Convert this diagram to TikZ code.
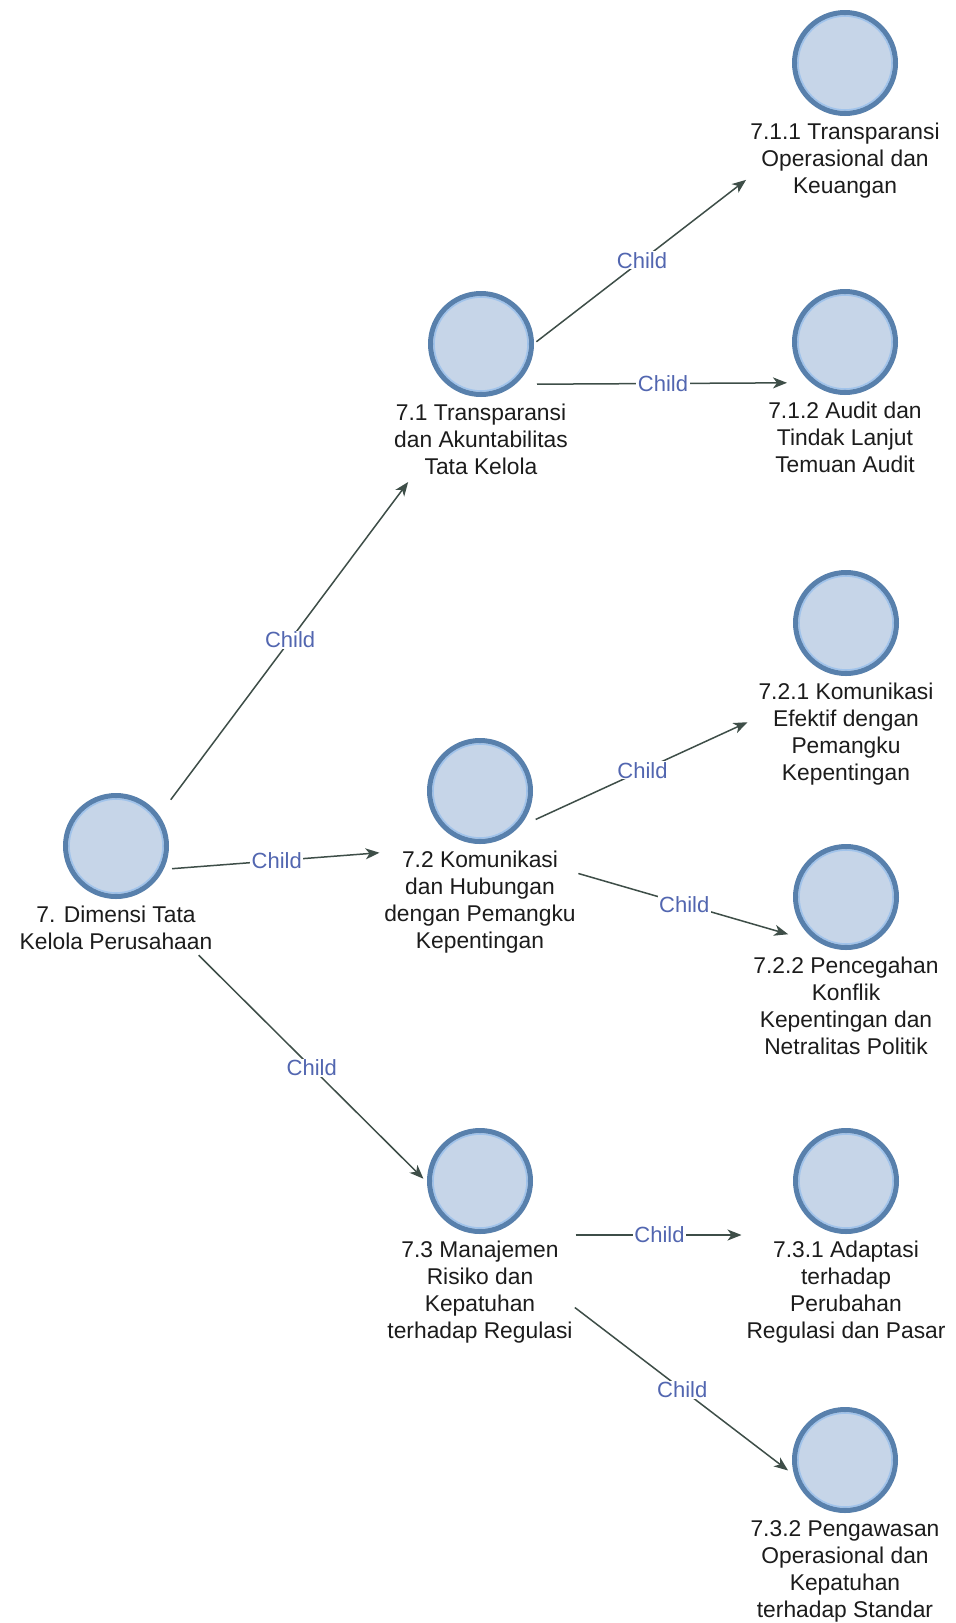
\documentclass[tikz,border=0pt]{standalone}
\usepackage{fontspec}
\setmainfont{Liberation Sans}
\usetikzlibrary{arrows.meta,positioning}

\definecolor{ringblue}{RGB}{88,128,172}
\definecolor{ringlight}{RGB}{160,195,235}
\definecolor{discfill}{RGB}{198,213,232}
\definecolor{labelink}{RGB}{28,28,28}
\definecolor{linkgray}{RGB}{62,78,72}
\definecolor{tagblue}{RGB}{82,102,176}

\begin{document}
\begin{tikzpicture}[x=1pt,y=-1pt,
  ring/.style={circle, draw=ringblue, line width=5pt, fill=discfill,
    minimum size=101pt, inner sep=0pt,
    path picture={\draw[draw=ringlight, line width=1.6pt]
      (path picture bounding box.center) circle[radius=47pt];}},
  lbl/.style={align=center, inner sep=0pt, text=labelink,
    font=\fontsize{22.8pt}{27pt}\selectfont},
  link/.style={draw=linkgray, line width=1.5pt,
    -{Stealth[length=14pt,width=11pt,inset=4pt]}},
  tag/.style={fill=white, inner xsep=1.5pt, inner ysep=1pt, text=tagblue,
    font=\fontsize{22pt}{24pt}\selectfont},
]
\useasboundingbox (0,0) rectangle (956,1623);
\fill[white] (0,0) rectangle (956,1623);

% ---- entities: disc + caption ----
\node[ring] (c0) at (116,846) {};
\node[lbl, below=7pt of c0] (t0) {7. Dimensi Tata\\Kelola Perusahaan};

\node[ring] (c71) at (481,344) {};
\node[lbl, below=7pt of c71] (t71) {7.1 Transparansi\\dan Akuntabilitas\\Tata Kelola};

\node[ring] (c711) at (845,63) {};
\node[lbl, below=7pt of c711] (t711) {7.1.1 Transparansi\\Operasional dan\\Keuangan};

\node[ring] (c712) at (845,342) {};
\node[lbl, below=7pt of c712] (t712) {7.1.2 Audit dan\\Tindak Lanjut\\Temuan Audit};

\node[ring] (c72) at (480,791) {};
\node[lbl, below=7pt of c72] (t72) {7.2 Komunikasi\\dan Hubungan\\dengan Pemangku\\Kepentingan};

\node[ring] (c721) at (846,623) {};
\node[lbl, below=7pt of c721] (t721) {7.2.1 Komunikasi\\Efektif dengan\\Pemangku\\Kepentingan};

\node[ring] (c722) at (846,897) {};
\node[lbl, below=7pt of c722] (t722) {7.2.2 Pencegahan\\Konflik\\Kepentingan dan\\Netralitas Politik};

\node[ring] (c73) at (480,1181) {};
\node[lbl, below=7pt of c73] (t73) {7.3 Manajemen\\Risiko dan\\Kepatuhan\\terhadap Regulasi};

\node[ring] (c731) at (846,1181) {};
\node[lbl, below=7pt of c731] (t731) {7.3.1 Adaptasi\\terhadap\\Perubahan\\Regulasi dan Pasar};

\node[ring] (c732) at (845,1460) {};
\node[lbl, below=7pt of c732] (t732) {7.3.2 Pengawasan\\Operasional dan\\Kepatuhan\\terhadap Standar};

% ---- centres of each disc-plus-caption block ----
\coordinate (h0)   at ([yshift=-27pt]c0.center);
\coordinate (h71)  at ([yshift=-40.5pt]c71.center);
\coordinate (h711) at ([yshift=-40.5pt]c711.center);
\coordinate (h712) at ([yshift=-40.5pt]c712.center);
\coordinate (h72)  at ([yshift=-54pt]c72.center);
\coordinate (h721) at ([yshift=-54pt]c721.center);
\coordinate (h722) at ([yshift=-54pt]c722.center);
\coordinate (h73)  at ([yshift=-54pt]c73.center);
\coordinate (h731) at ([yshift=-54pt]c731.center);
\coordinate (h732) at ([yshift=-54pt]c732.center);

% ---- parent -> child links ----
\draw[link, shorten <=91.5pt, shorten >=121.7pt] (h0) -- node[tag, pos=0.4769] {Child} (h71);
\draw[link, shorten <=56.2pt, shorten >=100.8pt] (h0) -- node[tag, pos=0.4417] {Child} (h72);
\draw[link, shorten <=116.5pt, shorten >=79.8pt] (h0) -- node[tag, pos=0.5378] {Child} (h73);

\draw[link, shorten <=70pt, shorten >=125pt] (h71) -- node[tag, pos=0.4424] {Child} (h711);
\draw[link, shorten <=56pt, shorten >=58pt] (h71) -- node[tag, pos=0.5] {Child} (h712);

\draw[link, shorten <=61.3pt, shorten >=108.4pt] (h72) -- node[tag, pos=0.4440] {Child} (h721);
\draw[link, shorten <=102.4pt, shorten >=60.2pt] (h72) -- node[tag, pos=0.5580] {Child} (h722);

\draw[link, shorten <=95.5pt, shorten >=104.5pt] (h73) -- node[tag, pos=0.4904] {Child} (h731);
\draw[link, shorten <=119.4pt, shorten >=71.7pt] (h73) -- node[tag, pos=0.5541] {Child} (h732);
\end{tikzpicture}
\end{document}
